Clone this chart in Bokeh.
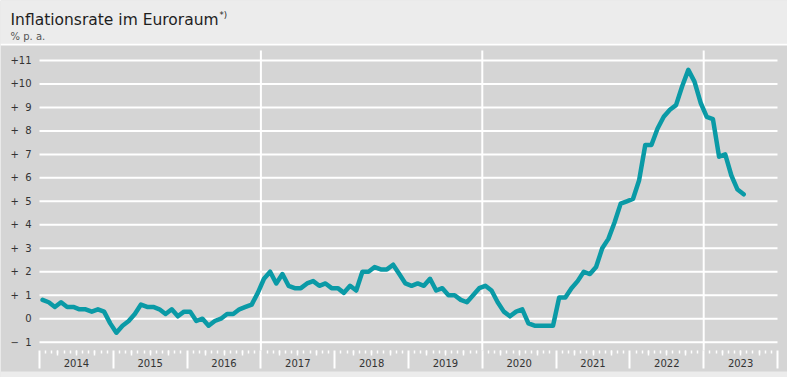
from bokeh.plotting import figure
from bokeh.models import Range1d, FixedTicker, LinearAxis, Label, BoxAnnotation
from bokeh.embed import file_html
from bokeh.resources import INLINE

# ---------------- data ----------------
title_text = "Inflationsrate im Euroraum"
title_note = "*)"
unit_text = "% p. a."

years = list(range(2014, 2024))
divider_years = [2017, 2020, 2023]

rate_2014 = [0.8, 0.7, 0.5, 0.7, 0.5, 0.5, 0.4, 0.4, 0.3, 0.4, 0.3, -0.2]
rate_2015 = [-0.6, -0.3, -0.1, 0.2, 0.6, 0.5, 0.5, 0.4, 0.2, 0.4, 0.1, 0.3]
rate_2016 = [0.3, -0.1, 0.0, -0.3, -0.1, 0.0, 0.2, 0.2, 0.4, 0.5, 0.6, 1.1]
rate_2017 = [1.7, 2.0, 1.5, 1.9, 1.4, 1.3, 1.3, 1.5, 1.6, 1.4, 1.5, 1.3]
rate_2018 = [1.3, 1.1, 1.4, 1.2, 2.0, 2.0, 2.2, 2.1, 2.1, 2.3, 1.9, 1.5]
rate_2019 = [1.4, 1.5, 1.4, 1.7, 1.2, 1.3, 1.0, 1.0, 0.8, 0.7, 1.0, 1.3]
rate_2020 = [1.4, 1.2, 0.7, 0.3, 0.1, 0.3, 0.4, -0.2, -0.3, -0.3, -0.3, -0.3]
rate_2021 = [0.9, 0.9, 1.3, 1.6, 2.0, 1.9, 2.2, 3.0, 3.4, 4.1, 4.9, 5.0]
rate_2022 = [5.1, 5.9, 7.4, 7.4, 8.1, 8.6, 8.9, 9.1, 9.9, 10.6, 10.1, 9.2]
rate_2023 = [8.6, 8.5, 6.9, 7.0, 6.1, 5.5, 5.3]

rates = (rate_2014 + rate_2015 + rate_2016 + rate_2017 + rate_2018 +
         rate_2019 + rate_2020 + rate_2021 + rate_2022 + rate_2023)

y_ticks = list(range(-1, 12))

# ---------------- helpers ----------------
FIG = "\u2007"


def y_label(v):
    if v > 0:
        return "+" + (FIG if v < 10 else "") + str(v)
    if v == 0:
        return "0"
    return "\u2212" + FIG + str(-v)


first_year = years[0]
month_x = [i + 0.5 for i in range(len(rates))]
n_months = len(years) * 12
year_bounds = [(y - first_year) * 12 for y in years] + [n_months]
mid_years = [(y - first_year) * 12 + 6 for y in years]
month_ticks = [m for m in range(0, n_months + 1) if m % 12 != 0]
quarter_ticks = [m for m in range(0, n_months + 1) if m % 3 == 0 and m % 12 != 0]
divider_x = [(y - first_year) * 12 for y in divider_years]

GREY = "#d5d5d5"
HEAD = "#ececec"
TEAL = "#0a9aa6"
FONT = "DejaVu Sans"
TXT = "#333333"

# ---------------- page geometry (pixels) ----------------
W, H = 787, 377
PLOT_L, PLOT_R = 39, 777          # extent of the time axis
PX_MONTH = (PLOT_R - PLOT_L) / n_months
PX_UNIT = 23.47                  # pixels per percentage point
Y_ZERO_PX = 60 + 11 * PX_UNIT    # pixel row of the 0 line


def v_at(py):
    """value on the y scale at pixel row py (from top)"""
    return (Y_ZERO_PX - py) / PX_UNIT


x_start = -PLOT_L / PX_MONTH
x_end = n_months + (W - PLOT_R) / PX_MONTH

p = figure(width=W, height=H, x_range=Range1d(x_start, x_end),
           y_range=Range1d(v_at(H), v_at(0)),
           title=None, output_backend="svg", toolbar_location=None,
           x_axis_type=None, y_axis_type=None, min_border=0,
           background_fill_color=GREY, border_fill_color=GREY, outline_line_color=None)

# header band, separator and bottom band
p.add_layout(BoxAnnotation(bottom=v_at(43), fill_color=HEAD, fill_alpha=1,
                           line_color=None, level="underlay"))
p.add_layout(BoxAnnotation(bottom=v_at(45), top=v_at(43), fill_color="white", fill_alpha=1,
                           line_color=None, level="underlay"))
p.add_layout(BoxAnnotation(top=v_at(371), fill_color=HEAD, fill_alpha=1,
                           line_color=None, level="underlay"))

# horizontal grid lines over the time span
p.segment(x0=[0] * len(y_ticks), x1=[n_months] * len(y_ticks), y0=y_ticks, y1=y_ticks,
          line_color="white", line_width=2)

axis_loc = v_at(350)
plot_top = v_at(50)

# year dividers
p.segment(x0=divider_x, x1=divider_x, y0=[axis_loc] * len(divider_x),
          y1=[plot_top] * len(divider_x), line_color="white", line_width=2)

# y axis
yax = LinearAxis(ticker=FixedTicker(ticks=y_ticks), fixed_location=0,
                 major_label_overrides={v: y_label(v) for v in y_ticks},
                 major_tick_out=0, major_tick_in=0, major_tick_line_color=None,
                 minor_tick_line_color=None, axis_line_color=None,
                 major_label_standoff=8, major_label_text_font=FONT,
                 major_label_text_font_size="10px", major_label_text_color=TXT)
p.add_layout(yax, "left")

# x axis: ticks
ax_ticks = LinearAxis(ticker=FixedTicker(ticks=year_bounds, minor_ticks=month_ticks),
                      fixed_location=axis_loc, axis_line_color=None,
                      major_tick_out=18, major_tick_in=0, major_tick_line_color="white",
                      major_tick_line_width=2, minor_tick_out=3, minor_tick_in=0,
                      minor_tick_line_color="white", minor_tick_line_width=1.5,
                      major_label_overrides={t: "" for t in year_bounds},
                      major_label_standoff=0)
p.add_layout(ax_ticks, "below")

# x axis: year labels
ax_labels = LinearAxis(ticker=FixedTicker(ticks=mid_years, minor_ticks=quarter_ticks),
                       fixed_location=axis_loc, axis_line_color=None,
                       major_tick_out=0, major_tick_in=0, major_tick_line_color=None,
                       minor_tick_out=5, minor_tick_in=0,
                       minor_tick_line_color="white", minor_tick_line_width=1.5,
                       major_label_overrides={t: str(y) for t, y in zip(mid_years, years)},
                       major_label_standoff=3, major_label_text_font=FONT,
                       major_label_text_font_size="10px", major_label_text_color=TXT)
p.add_layout(ax_labels, "below")

# data line
p.line(month_x, rates, line_color=TEAL, line_width=4.5, line_join="round", line_cap="round")

# header texts
p.add_layout(Label(x=10, y=H - 19, x_units="screen", y_units="screen", text=title_text,
                   text_font=FONT, text_font_size="15.5px", text_color="#1e1e1e",
                   text_baseline="alphabetic"))
p.add_layout(Label(x=219, y=H - 14.5, x_units="screen", y_units="screen", text=title_note,
                   text_font=FONT, text_font_size="8.5px", text_color="#1e1e1e",
                   text_baseline="alphabetic"))
p.add_layout(Label(x=10, y=H - 35.5, x_units="screen", y_units="screen", text=unit_text,
                   text_font=FONT, text_font_size="10px", text_color="#555555",
                   text_baseline="alphabetic"))

with open("out.html", "w") as f:
    f.write(file_html(p, INLINE))
